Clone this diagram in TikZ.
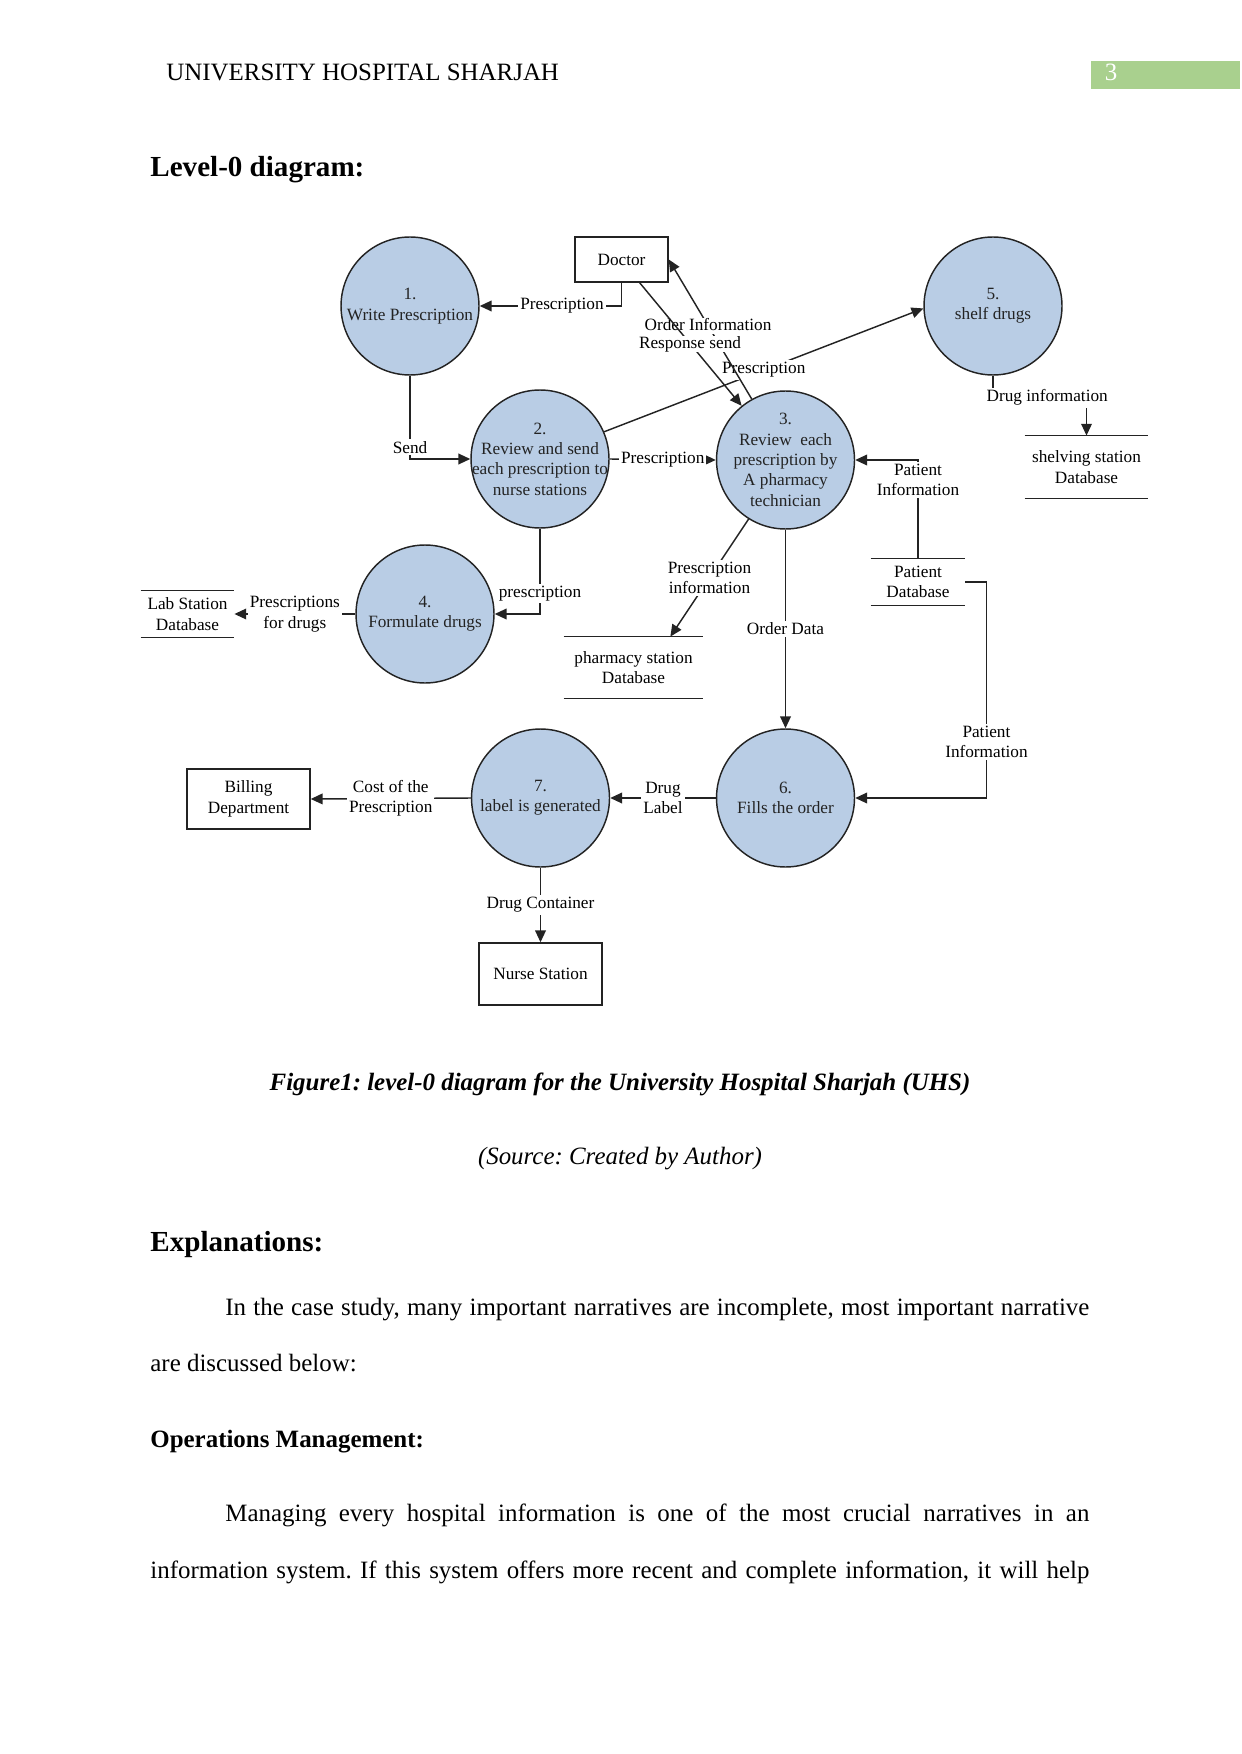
\documentclass[tikz,border=0pt]{standalone}
\usepackage{fontspec}
\setmainfont{Liberation Serif}
\usetikzlibrary{arrows.meta}
\definecolor{procblue}{RGB}{185,205,229}
\definecolor{pagegreen}{RGB}{169,208,142}
\definecolor{inkgray}{RGB}{35,35,35}
\newcommand\dfdfont{\fontsize{8.3pt}{9.8pt}\selectfont}
\newcommand\bodyfont{\fontsize{12pt}{14pt}\selectfont}
\frenchspacing
\tikzset{
  process/.style={circle, draw=inkgray, fill=procblue, minimum size=23.35mm, inner sep=0pt, line width=0.7pt},
  proctext/.style={align=center, font=\dfdfont, text=inkgray, inner sep=0pt},
  entity/.style={rectangle, draw=inkgray, fill=white, align=center, font=\dfdfont, line width=0.7pt},
  store/.style={align=center, font=\dfdfont, inner sep=0pt},
  flow/.style={draw=inkgray, line width=0.7pt, -{Triangle[length=2mm,width=1.8mm]}},
  lbl/.style={fill=white, inner sep=1pt, align=center, font=\dfdfont},
  tightlbl/.style={lbl, inner sep=0pt, text height=5.8pt, text depth=1.5pt},
  bodytext/.style={anchor=base west, inner sep=0pt, font=\bodyfont},
}
\begin{document}
\begin{tikzpicture}[x=0.16922mm, y=-0.16922mm]
\useasboundingbox (0,0) rectangle (1241,1754);
% page header
\node[bodytext] (hdr) at (166,81) {UNIVERSITY HOSPITAL SHARJAH};
\fill[pagegreen] (1091,61) rectangle (1240,89);
\node[font=\bodyfont, text=white, anchor=base, inner sep=0pt] (pg) at (1111,81) {3};
\node[bodytext, font=\fontsize{14pt}{16pt}\selectfont\bfseries] (ttl) at (150,177) {Level-0 diagram:};

% processes
\node[process, label={[proctext]center:{1.\\Write Prescription}}] (p1) at (410,306) {};
\node[process, label={[proctext]center:{2.\\Review and send\\each prescription to\\nurse stations}}] (p2) at (540,459) {};
\node[process, label={[proctext]center:{3.\\Review\ \ each\\prescription by\\A pharmacy\\technician}}] (p3) at (785.5,460) {};
\node[process, label={[proctext]center:{4.\\Formulate drugs}}] (p4) at (425,614) {};
\node[process, label={[proctext]center:{5.\\shelf drugs}}] (p5) at (993,306) {};
\node[process, label={[proctext]center:{6.\\Fills the order}}] (p6) at (785.5,798) {};
\node[process, label={[proctext]center:{7.\\label is generated}}] (p7) at (540.5,798) {};

% external entities
\node[entity, minimum width=15.74mm, minimum height=7.61mm] (doc) at (621.5,259.5) {Doctor};
\node[entity, minimum width=20.81mm, minimum height=10.15mm] (bill) at (248.5,799) {Billing\\Department};
\node[entity, minimum width=20.81mm, minimum height=10.49mm] (nurse) at (540.5,974) {Nurse Station};

% data stores
\node[store, minimum width=20.81mm, minimum height=10.49mm] (shelf) at (1086.5,467) {shelving station\\Database};
\node[store, minimum width=15.91mm, minimum height=7.78mm] (pat) at (918,582) {Patient\\Database};
\node[store, minimum width=15.74mm, minimum height=7.78mm] (lab) at (187.5,614) {Lab Station\\Database};
\node[store, minimum width=23.52mm, minimum height=10.32mm] (pdb) at (633.5,667.5) {pharmacy station\\Database};
\foreach \s in {shelf,pat,lab,pdb}
  \draw[inkgray, line width=0.7pt] (\s.north west) -- (\s.north east) (\s.south west) -- (\s.south east);

% flows
\draw[flow] (doc.south) |- node[lbl, pos=0.71] {Prescription} (p1.east);
\draw[flow] (p1.south) |- node[lbl, pos=0.43] {Send} (p2.west);
\draw[flow] (p2.east) -- node[lbl] {Prescription} (p3.west);
\draw[flow] (p2.south) |- node[lbl, pos=0.38] {prescription} (p4.east);
\draw[flow] (p4.west) -- node[lbl] {Prescriptions\\for drugs} (lab.east);
\draw[flow] (p2.23) -- node[lbl] {Prescription} (p5.182);
\draw[flow] (p3.119) -- (doc.east);
\node[tightlbl] (ordlbl) at (708,326) {Order Information};
\draw[flow] (doc.-52) -- (p3.129);
\node[tightlbl] (resplbl) at (690,344) {Response send};
\draw[flow] (p3.-122) -- node[lbl] {Prescription\\information} (pdb.40);
\draw[flow] (p3.south) -- node[lbl] {Order Data} (p6.north);
\draw[flow] (pat.north) |- node[lbl, pos=0.4] {Patient\\Information} (p3.east);
\draw[flow] (pat.east) -- ++(21,0) |- node[lbl, pos=0.37] {Patient\\Information} (p6.east);
\draw[flow] (p5.south) -- ++(0,22) -| node[lbl, pos=0.29] {Drug information} (shelf.north);
\draw[flow] (p6.west) -- node[lbl] {Drug\\Label} (p7.east);
\draw[flow] (p7.west) -- node[lbl] {Cost of the\\Prescription} (bill.east);
\draw[flow] (p7.south) -- node[lbl] {Drug Container} (nurse.north);

% caption and text
\node[font=\bodyfont\bfseries\itshape, anchor=base, inner sep=0pt] (cap) at (620,1090) {Figure1: level-0 diagram for the University Hospital Sharjah (UHS)};
\node[font=\bodyfont\itshape, anchor=base, inner sep=0pt] (src) at (620,1164) {(Source: Created by Author)};
\node[bodytext, font=\fontsize{14pt}{16pt}\selectfont\bfseries] (expl) at (150,1251) {Explanations:};
\node[bodytext] (l1) at (225,1315) {\makebox[146.2mm][s]{In the case study, many important narratives are incomplete, most important narrative}};
\node[bodytext] (l2) at (150,1371) {are discussed below:};
\node[bodytext, font=\bodyfont\bfseries] (ops) at (150,1447) {Operations Management:};
\node[bodytext] (l3) at (225,1521) {\makebox[146.2mm][s]{Managing every hospital information is one of the most crucial narratives in an}};
\node[bodytext] (l4) at (150,1578) {\makebox[158.9mm][s]{information system. If this system offers more recent and complete information, it will help}};
\end{tikzpicture}
\end{document}
